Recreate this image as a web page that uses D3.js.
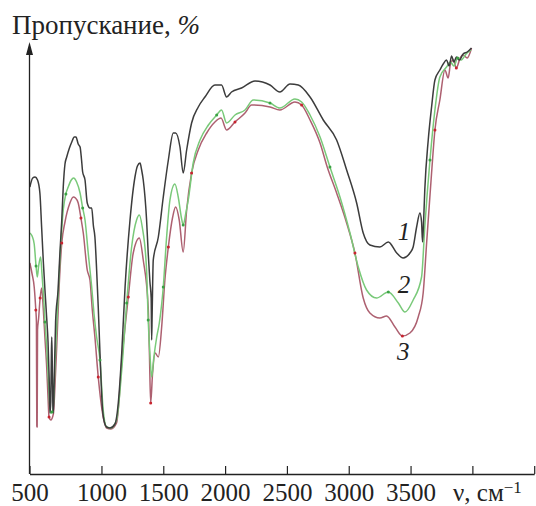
<!DOCTYPE html>
<html>
<head>
<meta charset="utf-8">
<title>Пропускание</title>
<script src="https://d3js.org/d3.v7.min.js"></script>
<style>
body { margin: 0; background: #fff; }
text { font-family: "Liberation Serif", "DejaVu Serif", serif; fill: #222; }
</style>
</head>
<body>
<svg width="536" height="506"></svg>
<script>
// волновое число (см-1), пропускание (отн. ед.)
var spec1 = [[421,71.75],[444,74],[463,74.25],[483,73.5],[502,70.25],[516,61.75],[530,53],[543,46],[557,39],[568,33],[577,24],[583,15.25],[590,18],[595,30],[598,34.25],[602,28],[607,17],[611,15.25],[617,22],[629,38],[649,46],[664,55.25],[679,63.5],[691,71.75],[705,77.5],[719,79.25],[741,81.5],[760,83],[780,84.25],[794,84.25],[812,82.5],[827,81.75],[839,78.5],[848,75.5],[867,73.5],[885,67.75],[907,66.5],[921,66.5],[935,62],[947,59.25],[961,51],[974,41.75],[988,30.25],[1009,16],[1028,12.5],[1042,11.75],[1069,11.5],[1109,12.5],[1136,17.75],[1164,30.25],[1191,46.75],[1231,63.5],[1271,74.25],[1291,77],[1312,77.75],[1325,76],[1338,73.5],[1365,63.5],[1378,55.25],[1392,48],[1402,44],[1406,33.5],[1410,40],[1419,53.5],[1460,59.25],[1500,69.25],[1541,78.5],[1581,85.25],[1600,85.25],[1635,81.75],[1661,75.25],[1689,81],[1729,87.75],[1783,91.75],[1837,94.25],[1918,97.25],[1971,97.25],[2012,94.25],[2052,95.5],[2133,96.5],[2242,98.25],[2363,97.25],[2443,95.5],[2525,97.5],[2592,97.25],[2687,94.25],[2794,88.5],[2902,83.5],[2983,76],[3064,67.75],[3117,60.25],[3171,57.25],[3252,56.75],[3320,58],[3388,55.25],[3440,54],[3495,55.25],[3521,56.75],[3549,61.75],[3576,65.25],[3589,63],[3597,58],[3604,62],[3615,71],[3643,83.5],[3670,91.75],[3697,98.5],[3737,101],[3764,102.5],[3791,103.5],[3812,102],[3832,104.5],[3851,103],[3871,104.25],[3895,103.5],[3925,105],[3958,105.5],[3993,106.5]];

var spec2 = [[421,60.25],[439,59.5],[456,57.5],[471,52],[481,49.25],[492,52],[508,54.25],[519,50],[530,45.25],[543,38],[557,31.75],[568,25],[576,20],[583,16],[590,15.25],[600,15.5],[611,17],[624,27],[638,37],[664,53.5],[691,66],[712,70],[731,71.75],[756,73.5],[775,74],[799,73],[827,70.25],[848,66.5],[867,63.5],[893,55.25],[921,46.75],[940,40],[961,34.25],[988,28.5],[1014,16],[1042,11.75],[1077,11.5],[1122,13.5],[1164,26],[1204,42.75],[1244,56.75],[1284,63.5],[1306,64.75],[1330,61.75],[1365,51],[1378,38.5],[1392,30],[1406,24.25],[1423,29],[1447,34.25],[1468,37.75],[1500,46.75],[1527,59.25],[1554,68.5],[1594,72.5],[1621,69.25],[1647,64],[1661,62.25],[1681,65],[1702,68.5],[1742,77.75],[1797,83.5],[1865,87.25],[1932,89.75],[1971,91],[2012,87.75],[2080,89.75],[2161,91],[2228,93.5],[2363,92.75],[2443,91.5],[2565,93.75],[2619,93],[2687,89.75],[2768,84.25],[2848,76.75],[2929,69.25],[3010,60.25],[3077,51.75],[3144,46],[3225,44],[3320,45.5],[3401,42.75],[3455,40.5],[3521,43.5],[3589,49.25],[3615,61.75],[3657,78.5],[3697,91],[3737,99.25],[3791,101.75],[3822,103],[3851,102],[3881,104],[3910,103.5],[3949,105],[3989,106]];

var spec3 = [[421,52.75],[439,50],[456,46.75],[469,41],[474,38],[477,12],[480,11.75],[483,36],[492,39],[504,44],[516,46.5],[530,41],[543,34],[557,26.75],[568,19],[576,14.25],[590,13.5],[611,15],[624,22],[638,31.75],[658,47],[679,57.75],[705,63],[745,67.75],[772,69.25],[790,69],[812,67.75],[834,64],[853,60.25],[885,51],[907,48.5],[926,41],[947,34.25],[974,24.25],[1014,14.25],[1042,11.5],[1077,11.25],[1122,12.75],[1170,30.25],[1217,44.25],[1257,55.25],[1306,59],[1338,53.5],[1378,41.75],[1388,30],[1398,17.75],[1413,25],[1434,30.25],[1460,29.25],[1487,36.75],[1513,48.5],[1541,56.75],[1576,64.25],[1600,66.75],[1629,63.5],[1661,55.5],[1689,66],[1729,75.25],[1783,81],[1851,85.25],[1918,88],[1967,89],[2012,86],[2080,88],[2161,90.25],[2214,92.25],[2363,91.75],[2443,91],[2565,93],[2619,92.25],[2687,88.5],[2768,82.75],[2826,76.75],[2902,70.25],[2983,62.75],[3050,55.25],[3117,44],[3171,40.25],[3252,39],[3306,39.5],[3374,36.75],[3434,34.5],[3495,35.25],[3562,39.25],[3602,45.25],[3630,57.75],[3670,75.25],[3697,86],[3737,93.5],[3778,101],[3804,99],[3823,102.5],[3846,103.5],[3870,101.5],[3901,104],[3925,104.75],[3958,104],[3993,106.5]];

var xTicks = [418, 1000, 1500, 2000, 2500, 3000, 3500, 4000, 4500];
var xTickLabels = ["500", "1000", "1500", "2000", "2500", "3000", "3500", "", ""];
var curveNames = ["1", "2", "3"];
// где стоят номера кривых (см-1, пропускание)
var nameAt = [[3447, 58.5], [3447, 45.3], [3440, 28.5]];

var svg = d3.select("svg");
var x = d3.scaleLinear().domain([418, 4500]).range([29.5, 534.2]);
var y = d3.scaleLinear().domain([0, 110]).range([474, 34]);

var line = d3.line()
    .x(function(d) { return x(d[0]); })
    .y(function(d) { return y(d[1]); })
    .curve(d3.curveMonotoneX);

var series = [
  {data: spec3, color: "#ad6070", dot: "#c8232e"},
  {data: spec2, color: "#79c979", dot: "#3aa244"},
  {data: spec1, color: "#3c3c3c", dot: null}
];

var g = svg.append("g");
g.selectAll("path")
  .data(series)
  .enter().append("path")
    .attr("d", function(d) { return line(d.data); })
    .attr("fill", "none")
    .attr("stroke", function(d) { return d.color; })
    .attr("stroke-width", 1.5)
    .attr("stroke-linejoin", "round");

// мелкие точки на кривых, как на скане
series.forEach(function(s) {
  if (!s.dot) return;
  g.append("g").selectAll("circle")
    .data(s.data.filter(function(d, i) { return i % 6 == 3; }))
    .enter().append("circle")
      .attr("cx", function(d) { return x(d[0]); })
      .attr("cy", function(d) { return y(d[1]); })
      .attr("r", 1.5)
      .attr("fill", s.dot);
});

// ось X, засечки внутрь
var xAxis = d3.axisBottom(x)
    .tickValues(xTicks)
    .tickFormat(function(d, i) { return xTickLabels[i]; })
    .tickSizeInner(-8)
    .tickSizeOuter(0)
    .tickPadding(9);

var gx = svg.append("g")
    .attr("transform", "translate(0,474)")
    .call(xAxis);
gx.select(".domain").attr("stroke", "#222").attr("stroke-width", 1.3);
gx.selectAll(".tick line").attr("stroke", "#222").attr("stroke-width", 1.2);
gx.selectAll(".tick text")
    .attr("font-family", "Liberation Serif")
    .attr("font-size", 25)
    .attr("fill", "#222");

var xt = svg.append("text")
    .attr("x", 453)
    .attr("y", 501)
    .attr("font-size", 25);
xt.append("tspan").text("ν, см");
xt.append("tspan").attr("dy", -8).attr("font-size", 17).text("−1");

// ось Y со стрелкой
svg.append("line")
    .attr("x1", 29.5).attr("y1", 474)
    .attr("x2", 29.5).attr("y2", 50)
    .attr("stroke", "#222").attr("stroke-width", 1.3);
svg.append("path")
    .attr("d", "M29.5,42 L26,55 L33,55 Z")
    .attr("fill", "#222");

var yt = svg.append("text")
    .attr("x", 12)
    .attr("y", 34)
    .attr("font-size", 27);
yt.append("tspan").text("Пропускание, ");
yt.append("tspan").attr("font-style", "italic").text("%");

svg.append("g").selectAll("text")
  .data(curveNames)
  .enter().append("text")
    .attr("x", function(d, i) { return x(nameAt[i][0]); })
    .attr("y", function(d, i) { return y(nameAt[i][1]); })
    .attr("text-anchor", "middle")
    .attr("font-style", "italic")
    .attr("font-size", 25)
    .text(function(d) { return d; });
</script>
</body>
</html>
